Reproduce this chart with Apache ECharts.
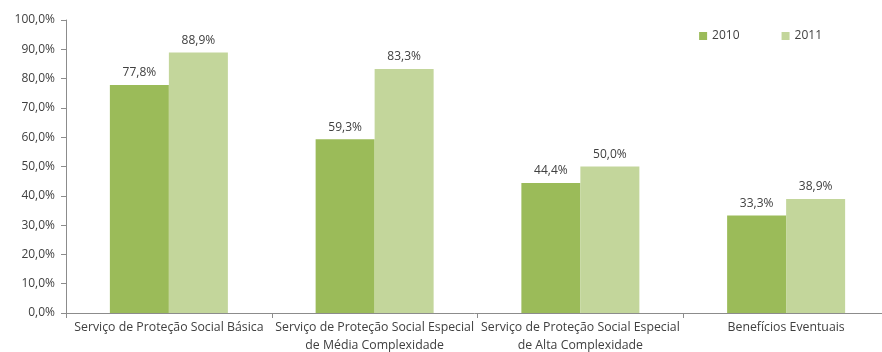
<!DOCTYPE html>
<html>
<head>
<meta charset="utf-8">
<script src="https://cdn.jsdelivr.net/npm/echarts@6/dist/echarts.min.js"></script>
<style>
html, body { margin: 0; padding: 0; background: #fff; }
#chart { width: 882px; height: 352px; }
</style>
</head>
<body>
<div id="chart"></div>
<script>
var categories = [
    'Serviço de Proteção Social Básica',
    'Serviço de Proteção Social Especial\nde Média Complexidade',
    'Serviço de Proteção Social Especial\nde Alta Complexidade',
    'Benefícios Eventuais'
];
var values2010 = [77.8, 59.3, 44.4, 33.3];
var values2011 = [88.9, 83.3, 50.0, 38.9];

function pct(v) {
    return v.toFixed(1).replace('.', ',') + '%';
}

var myChart = echarts.init(document.getElementById('chart'));
var txt = { color: '#404040', fontSize: 12, fontFamily: 'Open Sans' };
var option = {
    animation: false,
    color: ['#9BBB59', '#C3D69B'],
    legend: {
        right: 55,
        top: 25,
        itemWidth: 8,
        itemHeight: 8,
        itemGap: 42,
        icon: 'rect',
        textStyle: txt,
        data: ['2010', '2011']
    },
    grid: { left: 66, right: -7, top: 20, bottom: 39, outerBoundsMode: 'none' },
    xAxis: {
        type: 'category',
        data: categories,
        axisLine: { lineStyle: { color: '#8c8c8c' } },
        axisTick: { show: true, alignWithLabel: false, length: 5, lineStyle: { color: '#8c8c8c' } },
        axisLabel: { interval: 0, color: '#404040', fontSize: 12.3, fontFamily: 'Open Sans', lineHeight: 18, margin: 5 }
    },
    yAxis: {
        type: 'value',
        min: 0,
        max: 100,
        interval: 10,
        splitLine: { show: false },
        axisLine: { show: true, lineStyle: { color: '#8c8c8c' } },
        axisTick: { show: true, length: 5, lineStyle: { color: '#8c8c8c' } },
        axisLabel: {
            color: '#404040', fontSize: 12, fontFamily: 'Open Sans', margin: 11,
            formatter: function (v) { return pct(v); }
        }
    },
    series: [{
        name: '2010',
        type: 'bar',
        barWidth: 59,
        barGap: '0%',
        data: values2010,
        label: {
            show: true, position: 'top', distance: 6,
            color: '#404040', fontSize: 12, fontFamily: 'Open Sans',
            formatter: function (p) { return pct(p.value); }
        }
    }, {
        name: '2011',
        type: 'bar',
        barWidth: 59,
        barGap: '0%',
        data: values2011,
        label: {
            show: true, position: 'top', distance: 6,
            color: '#404040', fontSize: 12, fontFamily: 'Open Sans',
            formatter: function (p) { return pct(p.value); }
        }
    }]
};
myChart.setOption(option);
</script>
</body>
</html>
